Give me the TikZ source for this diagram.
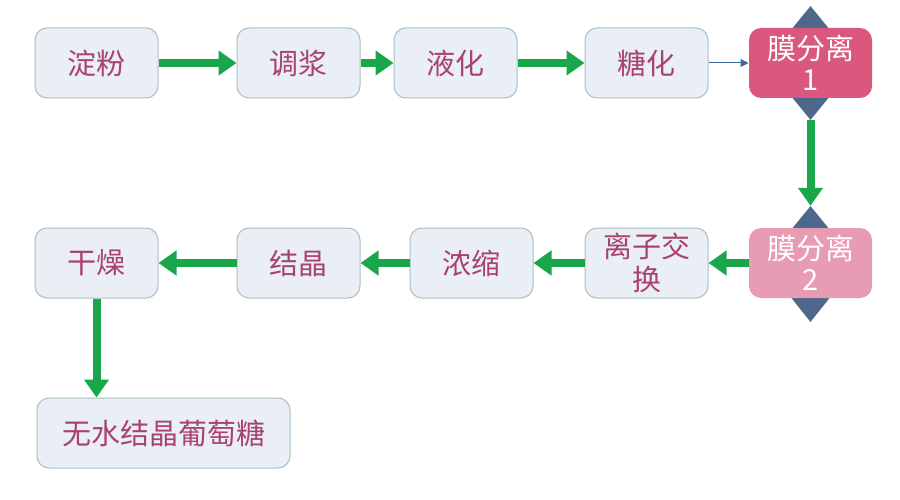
\documentclass[tikz,border=0pt]{standalone}
\usepackage{fontspec}
\setmainfont{Noto Sans CJK SC}
\usetikzlibrary{shapes.geometric,arrows.meta}
\definecolor{boxfill}{RGB}{233,239,244}
\definecolor{boxline}{RGB}{170,190,200}
\definecolor{txt}{RGB}{170,66,110}
\definecolor{pinkA}{RGB}{218,88,126}
\definecolor{pinkB}{RGB}{232,156,180}
\definecolor{dia}{RGB}{78,104,140}
\definecolor{grn}{RGB}{26,166,75}
\definecolor{thinblue}{RGB}{60,105,150}
\begin{document}
\begin{tikzpicture}[x=1pt,y=-1pt,
  stepbox/.style={draw=boxline,line width=1pt,fill=boxfill,rounded corners=12pt,
    minimum width=123pt,minimum height=70pt,inner sep=0pt,text=txt,
    font=\fontsize{29pt}{33pt}\selectfont,align=center},
  membox/.style={stepbox,draw=none,text=white},
  dmd/.style={diamond,fill=dia,draw=none,inner sep=0pt,minimum width=36pt,minimum height=44pt},
  garrow/.style={draw=grn,line width=8pt,-{Triangle[width=24pt,length=18pt]}},
]
\useasboundingbox (0,0) rectangle (900,500);
% diamonds behind membrane boxes
\node[dmd] (d1t) at (810.5,28) {};
\node[dmd] (d1b) at (810.5,98) {};
\node[dmd] (d2t) at (810.5,228) {};
\node[dmd,minimum width=40pt,minimum height=50pt] (d2b) at (810.5,297) {};
% row 1
\node[stepbox] (a1) at (96.5,63) {淀粉};
\node[stepbox] (a2) at (298.5,63) {调浆};
\node[stepbox] (a3) at (455.5,63) {液化};
\node[stepbox] (a4) at (646.5,63) {糖化};
\node[membox,fill=pinkA] (m1) at (810.5,63) {膜分离\\[-2pt]1};
% row 2
\node[membox,fill=pinkB] (m2) at (810.5,263) {膜分离\\[-2pt]2};
\node[stepbox] (b4) at (646.5,263) {离子交\\换};
\node[stepbox] (b3) at (471.5,263) {浓缩};
\node[stepbox] (b2) at (298.5,263) {结晶};
\node[stepbox] (b1) at (96.5,263) {干燥};
% final
\node[stepbox,minimum width=253pt] (f) at (163.5,433) {无水结晶葡萄糖};
% connectors
\draw[garrow] (a1) -- (a2);
\draw[garrow] (a2) -- (a3);
\draw[garrow] (a3) -- (a4);
\draw[draw=thinblue,line width=1pt,-{Triangle[width=8pt,length=8pt]}] (a4) -- (m1);
\draw[garrow] (d1b.south) -- (d2t.north);
\draw[garrow] (m2) -- (b4);
\draw[garrow] (b4) -- (b3);
\draw[garrow] (b3) -- (b2);
\draw[garrow] (b2) -- (b1);
\draw[garrow] (b1.south) -- (b1.south |- f.north);
\end{tikzpicture}
\end{document}
